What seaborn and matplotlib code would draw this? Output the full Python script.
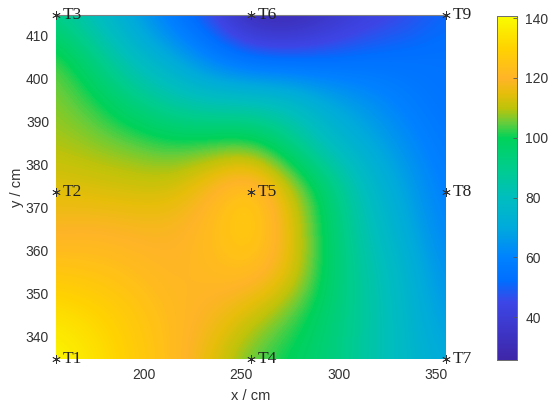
import numpy as np
import pandas as pd
import matplotlib
matplotlib.use("Agg")
import matplotlib.pyplot as plt
import seaborn as sns
from matplotlib.colors import LinearSegmentedColormap

x_nodes = [155, 175, 195, 215, 235, 255, 275, 295, 315, 335, 355]
y_nodes = [415, 405, 395, 385, 375, 365, 355, 345, 335]

row_415 = [90, 78, 68, 55, 44, 28, 26, 34, 41, 45, 51]
row_405 = [105, 92, 78, 70, 58, 51, 50, 51, 53, 54, 54]
row_395 = [107, 102, 92, 84, 80, 80, 78, 70, 64, 58, 54]
row_385 = [109, 107, 105, 102, 103, 104, 92, 78, 71, 63, 56]
row_375 = [114, 113, 112, 112, 120, 128, 112, 95, 78, 68, 58]
row_365 = [119, 120, 119, 119, 123, 130, 116, 97, 82, 71, 60]
row_355 = [126, 125, 123, 120, 122, 124, 116, 97, 85, 75, 63]
row_345 = [134, 131, 127, 122, 119, 112, 104, 95, 86, 76, 66]
row_335 = [140, 134, 128, 123, 114, 104, 99, 94, 85, 77, 70]

sensor_names = ["T1", "T2", "T3", "T4", "T5", "T6", "T7", "T8", "T9"]
sensor_x = [155, 155, 155, 255, 255, 255, 355, 355, 355]
sensor_y = [335, 374, 415, 335, 374, 415, 335, 374, 415]

x_ticks = [200, 250, 300, 350]
y_ticks = [340, 350, 360, 370, 380, 390, 400, 410]
cbar_ticks = [40, 60, 80, 100, 120, 140]

vmin, vmax = 25.7, 140.7
color_stops = [
    (26, "#3e26a8"), (45, "#3c46e6"), (52, "#006eff"), (60, "#0082ff"),
    (70, "#00aadc"), (80, "#00bebe"), (90, "#00cd8c"), (100, "#00d25a"),
    (105, "#64cd3c"), (110, "#bec30a"), (115, "#e6be0a"), (120, "#ffb428"),
    (130, "#ffd200"), (140, "#fafa00"),
]
cmap = LinearSegmentedColormap.from_list(
    "parula_like",
    [(0, color_stops[0][1])] + [((v - vmin) / (vmax - vmin), c) for v, c in color_stops[1:]] + [(1, "#fafa00")],
)

df = pd.DataFrame(
    [row_415, row_405, row_395, row_385, row_375, row_365, row_355, row_345, row_335],
    index=y_nodes, columns=x_nodes,
)

W, H = 550, 407
fig = plt.figure(figsize=(5.5, 4.07), dpi=100)
ax = fig.add_axes([56 / W, 1 - 359.5 / H, 390 / W, 344.5 / H])
cax = fig.add_axes([497 / W, 1 - 360 / H, 20 / W, 344 / H])

sns.heatmap(df, ax=ax, cbar_ax=cax, cmap=cmap, vmin=vmin, vmax=vmax)
ax.collections[0].set_visible(False)

# smooth surface on top of the seaborn axes, nodes sit on the axes edges
dx = 20 / 2
dy = 10 / 2
ax.imshow(df.values, extent=[155 - dx, 355 + dx, 335 - dy, 415 + dy], aspect="auto",
          origin="upper", interpolation="bicubic", cmap=cmap, vmin=vmin, vmax=vmax)
ax.set_xlim(155, 355)
ax.set_ylim(335, 415)

ax.set_xticks(x_ticks)
ax.set_xticklabels(x_ticks, rotation=0)
ax.set_yticks(y_ticks)
ax.set_yticklabels(y_ticks, rotation=0)
ax.tick_params(length=0, labelsize=10, labelcolor="#333333", pad=5, labelfontfamily="Liberation Sans")
ax.tick_params(axis="x", pad=6)
ax.set_xlabel("x / cm", fontsize=10.5, color="#333333", family="Liberation Sans", labelpad=5)
ax.set_ylabel("y / cm", fontsize=10.5, color="#333333", family="Liberation Sans", labelpad=1)
for name, spine in ax.spines.items():
    spine.set_visible(name == "top")
    spine.set_color("#808080")
    spine.set_linewidth(0.8)

ax.scatter(sensor_x, sensor_y, marker=(6, 2, 0), s=32, c="#333333", linewidths=0.55, clip_on=False, zorder=5)
for name, sx, sy in zip(sensor_names, sensor_x, sensor_y):
    ax.annotate(name, (sx, sy), xytext=(4.5, 0), textcoords="offset points", va="center", ha="left",
                fontsize=12.5, family="Liberation Serif", color="#222222", annotation_clip=False, zorder=6)

cax.set_yticks(cbar_ticks)
cax.set_yticklabels(cbar_ticks)
cax.tick_params(direction="in", length=3, width=0.6, color="#555555", labelsize=10, labelcolor="#333333",
                pad=6, labelfontfamily="Liberation Sans")
for spine in cax.spines.values():
    spine.set_visible(True)
    spine.set_color("#707070")
    spine.set_linewidth(0.7)

fig.savefig("out.png", dpi=100)
